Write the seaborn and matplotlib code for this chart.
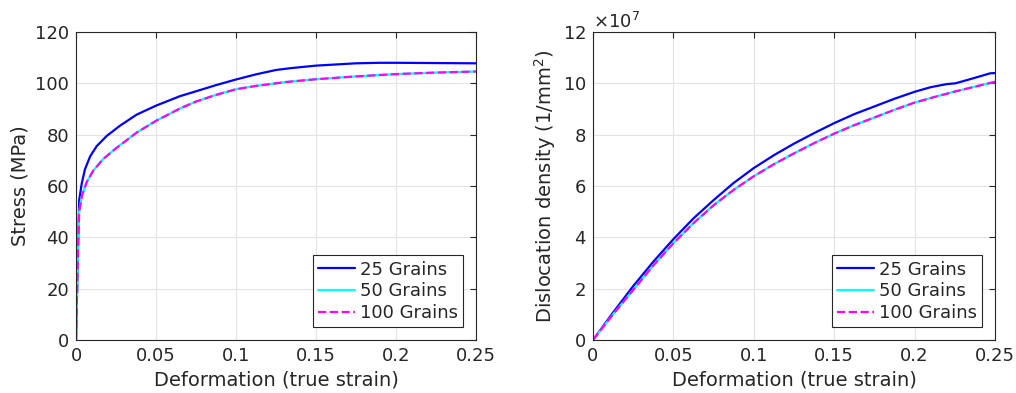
import numpy as np
import pandas as pd
import matplotlib
matplotlib.use("Agg")
import matplotlib.pyplot as plt
import seaborn as sns
from matplotlib.ticker import ScalarFormatter

# ---------------- data ----------------
# Stress-strain (MPa)
ss_strain_25 = [0.0, 0.0014, 0.002, 0.0036, 0.0056, 0.0088, 0.0129, 0.0192, 0.0275,
                0.0379, 0.05, 0.065, 0.075, 0.0875, 0.1, 0.1125, 0.125, 0.134,
                0.15, 0.175, 0.19, 0.2, 0.225, 0.25]
ss_stress_25 = [0.0, 40.0, 54.5, 61.0, 66.5, 71.5, 75.5, 79.5, 83.5,
                87.8, 91.3, 95.0, 96.9, 99.3, 101.5, 103.5, 105.2, 105.9,
                106.9, 107.8, 108.0, 108.0, 107.9, 107.8]
ss_strain_50 = [0.0, 0.0014, 0.002, 0.0036, 0.0067, 0.0108, 0.017, 0.025, 0.0379,
                0.05, 0.065, 0.075, 0.0875, 0.1, 0.1125, 0.125, 0.131, 0.15,
                0.175, 0.2, 0.225, 0.25]
ss_stress_50 = [0.0, 39.0, 50.0, 56.0, 61.5, 66.0, 70.5, 74.7, 80.8,
                85.4, 90.2, 92.9, 95.5, 97.7, 99.0, 100.0, 100.5, 101.6,
                102.7, 103.6, 104.2, 104.6]
ss_strain_100 = ss_strain_50
ss_stress_100 = [0.0, 39.0, 50.0, 56.0, 61.5, 66.0, 70.5, 74.7, 80.8,
                 85.4, 90.2, 92.9, 95.5, 97.7, 99.0, 100.0, 100.5, 101.6,
                 102.7, 103.6, 104.2, 104.6]

# Dislocation density (x1e7 1/mm^2)
dd_strain_25 = [0.0, 0.0125, 0.025, 0.0375, 0.05, 0.0625, 0.075, 0.0875, 0.1,
                0.1125, 0.125, 0.1375, 0.15, 0.1625, 0.175, 0.1875, 0.2, 0.21,
                0.22, 0.2254, 0.235, 0.247, 0.25]
dd_rho_25 = [0.0, 1.07, 2.1, 3.05, 3.93, 4.74, 5.45, 6.12, 6.70,
             7.2, 7.65, 8.06, 8.45, 8.8, 9.1, 9.4, 9.67, 9.85,
             9.97, 10.0, 10.17, 10.39, 10.40]
dd_strain_50 = [0.0, 0.0125, 0.025, 0.0375, 0.05, 0.0625, 0.075, 0.0875, 0.1,
                0.1125, 0.125, 0.1375, 0.15, 0.1625, 0.175, 0.1875, 0.2, 0.2125,
                0.225, 0.2375, 0.25]
dd_rho_50 = [0.0, 1.0, 1.95, 2.9, 3.77, 4.55, 5.25, 5.85, 6.38,
             6.85, 7.27, 7.67, 8.04, 8.37, 8.67, 8.97, 9.25, 9.47,
             9.68, 9.87, 10.06]
dd_strain_100 = dd_strain_50
dd_rho_100 = [0.0, 1.0, 1.95, 2.9, 3.77, 4.55, 5.25, 5.85, 6.38,
              6.85, 7.27, 7.67, 8.04, 8.37, 8.67, 8.97, 9.25, 9.47,
              9.68, 9.87, 10.06]

labels = ["25 Grains", "50 Grains", "100 Grains"]
colors = ["#0000ff", "#00ffff", "#ff00ff"]
styles = ["-", "-", "--"]

x_ticks = [0, 0.05, 0.1, 0.15, 0.2, 0.25]
x_ticklabels = ["0", "0.05", "0.1", "0.15", "0.2", "0.25"]
stress_ticks = [0, 20, 40, 60, 80, 100, 120]
rho_ticks = [0, 2, 4, 6, 8, 10, 12]

# ---------------- style ----------------
sns.set_style("white")
plt.rcParams["font.family"] = ["DejaVu Sans"]
AX_COLOR = "#262626"

fig = plt.figure(figsize=(10.16, 3.93), dpi=100)
ax1 = fig.add_axes([76 / 1016, 53 / 393, 400 / 1016, 308 / 393])
ax2 = fig.add_axes([593 / 1016, 53 / 393, 402 / 1016, 308 / 393])

ss_data = [(ss_strain_25, ss_stress_25), (ss_strain_50, ss_stress_50),
           (ss_strain_100, ss_stress_100)]
dd_data = [(dd_strain_25, dd_rho_25), (dd_strain_50, dd_rho_50),
           (dd_strain_100, dd_rho_100)]

for (x, y), lab, c, ls in zip(ss_data, labels, colors, styles):
    sns.lineplot(x=np.array(x), y=np.array(y), ax=ax1, color=c, linestyle=ls,
                 linewidth=1.6, label=lab, sort=False, estimator=None)

for (x, y), lab, c, ls in zip(dd_data, labels, colors, styles):
    sns.lineplot(x=np.array(x), y=np.array(y) * 1e7, ax=ax2, color=c, linestyle=ls,
                 linewidth=1.6, label=lab, sort=False, estimator=None)

for ax in (ax1, ax2):
    ax.set_xlim(0, 0.25)
    ax.set_xticks(x_ticks)
    ax.set_xticklabels(x_ticklabels)
    ax.set_xlabel("Deformation (true strain)", fontsize=14, color=AX_COLOR, labelpad=4)
    ax.grid(True, color="#e3e3e3", linewidth=0.8)
    ax.set_axisbelow(True)
    for s in ax.spines.values():
        s.set_visible(True)
        s.set_color(AX_COLOR)
        s.set_linewidth(0.8)
    ax.tick_params(direction="in", length=4, width=0.8, colors=AX_COLOR,
                   labelsize=13, top=True, right=True, pad=5)
    leg = ax.legend(loc="lower right", fontsize=13, frameon=True, fancybox=False,
                    handlelength=2.0, handletextpad=0.3, borderpad=0.3,
                    labelspacing=0.2, borderaxespad=0.7)
    leg.get_frame().set_edgecolor(AX_COLOR)
    leg.get_frame().set_linewidth(0.8)
    leg.get_frame().set_alpha(1)

ax1.set_ylim(0, 120)
ax1.set_yticks(stress_ticks)
ax1.set_ylabel("Stress (MPa)", fontsize=14, color=AX_COLOR, labelpad=4)

ax2.set_ylim(0, 12e7)
ax2.set_yticks([t * 1e7 for t in rho_ticks])
fmt = ScalarFormatter(useMathText=True)
fmt.set_powerlimits((7, 7))
ax2.yaxis.set_major_formatter(fmt)
ax2.yaxis.get_offset_text().set_fontsize(13)
ax2.yaxis.get_offset_text().set_color(AX_COLOR)
ax2.set_ylabel("Dislocation density (1/mm$^2$)", fontsize=14, color=AX_COLOR, labelpad=3)

fig.savefig("out.png", dpi=100)
